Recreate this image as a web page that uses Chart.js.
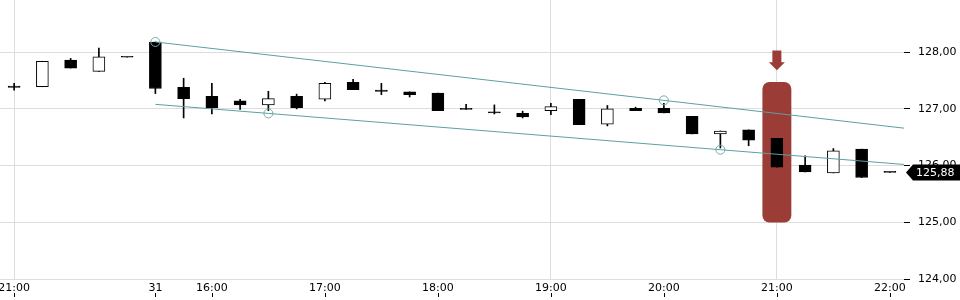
<!DOCTYPE html>
<html><head><meta charset="utf-8">
<script src="https://cdn.jsdelivr.net/npm/chart.js@4.4.1/dist/chart.umd.min.js"></script>
<style>html,body{margin:0;padding:0;background:#fff}#wrap{width:960px;height:300px;position:relative}</style>
</head><body><div id="wrap"><canvas id="c"></canvas></div>
<script>
const times = ["21:00","21:15","21:30","21:45","22:00",
  "15:30","15:45","16:00","16:15","16:30","16:45","17:00","17:15","17:30","17:45",
  "18:00","18:15","18:30","18:45","19:00","19:15","19:30","19:45","20:00","20:15",
  "20:30","20:45","21:00","21:15","21:30","21:45","22:00"];
const tickLabels = ["21:00","","","","","31","","16:00","","","","17:00","","","","18:00",
  "","","","19:00","","","","20:00","","","","21:00","","","","22:00"];
const open  = [127.40,127.39,127.86,127.66,127.91,128.18,127.38,127.22,127.14,127.07,127.22,127.17,127.47,127.33,127.30,127.28,127.01,126.93,126.92,126.97,127.17,126.73,127.01,127.01,126.87,126.56,126.63,126.48,126.01,125.87,126.29,125.88];
const high  = [127.45,127.84,127.89,128.07,127.91,128.18,127.54,127.45,127.17,127.31,127.26,127.47,127.52,127.45,127.30,127.28,127.08,127.07,126.96,127.10,127.17,127.06,127.03,127.10,126.87,126.61,126.63,126.48,126.17,126.30,126.29,125.88];
const low   = [127.33,127.39,127.72,127.66,127.91,127.27,126.84,126.91,126.99,126.97,127.00,127.14,127.34,127.25,127.21,126.97,126.99,126.91,126.84,126.90,126.72,126.70,126.97,126.93,126.56,126.31,126.35,125.97,125.89,125.87,125.79,125.88];
const close = [127.38,127.84,127.72,127.92,127.91,127.36,127.18,127.02,127.07,127.18,127.02,127.45,127.34,127.31,127.25,126.97,126.99,126.93,126.86,127.04,126.72,127.00,126.97,126.93,126.56,126.61,126.45,125.97,125.89,126.26,125.79,125.88];
const yTicks = [124,125,126,127,128];
const yMin = 124, yMax = 128.92;
const upperTrend = [{x:5,y:128.18},{x:23,y:127.15},{x:31.5,y:126.66}];
const upperMarks = [4.5,4.5,0];
const lowerTrend = [{x:5,y:127.08},{x:9,y:126.92},{x:25,y:126.28},{x:31.5,y:126.02}];
const lowerMarks = [0,4.5,4.5,0];
const highlightIndex = 27;
const highlightRange = [125.00,127.47];
const arrowRange = [128.03,127.68];
const lastPrice = 125.88;

const RED = '#9b3c36', TEAL = '#5f9ea0', GRID = '#dddddd';
const fmt = v => v.toFixed(2).replace('.', ',');

const overlay = {
  id: 'overlay',
  afterDatasetsDraw(chart) {
    const ctx = chart.ctx, xs = chart.scales.x, ys = chart.scales.y;
    const x = xs.getPixelForValue(highlightIndex);
    const yTop = ys.getPixelForValue(arrowRange[0]);
    const yTip = ys.getPixelForValue(arrowRange[1]);
    ctx.save();
    ctx.fillStyle = RED;
    ctx.beginPath();
    ctx.moveTo(x-4.5, yTop); ctx.lineTo(x+4.5, yTop); ctx.lineTo(x+4.5, yTip-8);
    ctx.lineTo(x+8, yTip-8); ctx.lineTo(x, yTip); ctx.lineTo(x-8, yTip-8);
    ctx.lineTo(x-4.5, yTip-8); ctx.closePath(); ctx.fill();
    ctx.restore();
  },
  afterDraw(chart) {
    const ctx = chart.ctx, xs = chart.scales.x, ys = chart.scales.y, ca = chart.chartArea;
    ctx.save();
    ctx.strokeStyle = '#000'; ctx.lineWidth = 1;
    tickLabels.forEach((l, i) => {
      if (!l) return;
      const px = Math.round(xs.getPixelForValue(i)) + 0.5;
      ctx.beginPath(); ctx.moveTo(px, ca.bottom + 14); ctx.lineTo(px, ca.bottom + 18); ctx.stroke();
    });
    const yp = ys.getPixelForValue(lastPrice);
    const left = ca.right + 2;
    ctx.fillStyle = '#000';
    ctx.beginPath();
    ctx.moveTo(left, yp); ctx.lineTo(left+7, yp-8); ctx.lineTo(chart.width, yp-8);
    ctx.lineTo(chart.width, yp+8); ctx.lineTo(left+7, yp+8); ctx.closePath(); ctx.fill();
    ctx.fillStyle = '#fff';
    ctx.font = '11px "DejaVu Sans"';
    ctx.textBaseline = 'middle'; ctx.textAlign = 'left';
    ctx.fillText(fmt(lastPrice), left + 10, yp + 0.5);
    ctx.restore();
  }
};

Chart.defaults.font.family = '"DejaVu Sans", sans-serif';
Chart.defaults.font.size = 11;
Chart.defaults.color = '#000';

new Chart(document.getElementById('c'), {
  type: 'bar',
  data: {
    labels: times,
    datasets: [
      { type: 'line', xAxisID: 'xl', data: upperTrend, borderColor: TEAL, borderWidth: 1,
        pointRadius: upperMarks, pointBorderColor: '#72aaad', pointBackgroundColor: 'rgba(0,0,0,0)',
        pointBorderWidth: 1, fill: false, tension: 0, order: 0 },
      { type: 'line', xAxisID: 'xl', data: lowerTrend, borderColor: TEAL, borderWidth: 1,
        pointRadius: lowerMarks, pointBorderColor: '#72aaad', pointBackgroundColor: 'rgba(0,0,0,0)',
        pointBorderWidth: 1, fill: false, tension: 0, order: 0 },
      { data: times.map((t, i) => [open[i], close[i]]),
        backgroundColor: times.map((t, i) => close[i] > open[i] ? '#fff' : '#000'),
        borderColor: '#000', borderWidth: 1, borderSkipped: false, barThickness: 12,
        minBarLength: 1, grouped: false, order: 2 },
      { data: times.map((t, i) => [low[i], high[i]]),
        backgroundColor: '#000', borderWidth: 0, barThickness: 1, grouped: false, order: 3 },
      { data: times.map((t, i) => i === highlightIndex ? highlightRange : null),
        backgroundColor: RED, borderWidth: 0, borderSkipped: false,
        borderRadius: {topLeft: 7, topRight: 7, bottomLeft: 7, bottomRight: 7},
        barPercentage: 1, categoryPercentage: 1, grouped: false, order: 4 }
    ]
  },
  options: {
    responsive: true, maintainAspectRatio: false, animation: false, devicePixelRatio: 1,
    layout: { padding: 0, autoPadding: false },
    plugins: { legend: { display: false }, tooltip: { enabled: false } },
    scales: {
      x: {
        type: 'category', offset: true,
        afterFit(s) { s.height = 21; s.paddingLeft = 0; s.paddingRight = 0; },
        grid: { offset: false, drawTicks: false,
          color: c => tickLabels[c.index] ? GRID : 'rgba(0,0,0,0)' },
        border: { display: false },
        ticks: { autoSkip: false, maxRotation: 0, minRotation: 0, padding: 3,
          callback: (v, i) => tickLabels[i] || null }
      },
      xl: { type: 'linear', display: false, offset: false, grid: { offset: false },
        min: -0.5, max: times.length - 0.5,
        afterFit(s) { s.paddingLeft = 0; s.paddingRight = 0; } },
      y: {
        position: 'right', min: yMin, max: yMax,
        afterBuildTicks(s) { s.ticks = yTicks.map(v => ({ value: v })); },
        afterFit(s) { s.width = 56; s.paddingTop = 0; s.paddingBottom = 0; },
        grid: { color: GRID, tickColor: '#000', tickLength: 6 },
        border: { display: false },
        ticks: { padding: 8, callback: v => fmt(v) }
      }
    }
  },
  plugins: [overlay]
});
</script>
</body></html>
